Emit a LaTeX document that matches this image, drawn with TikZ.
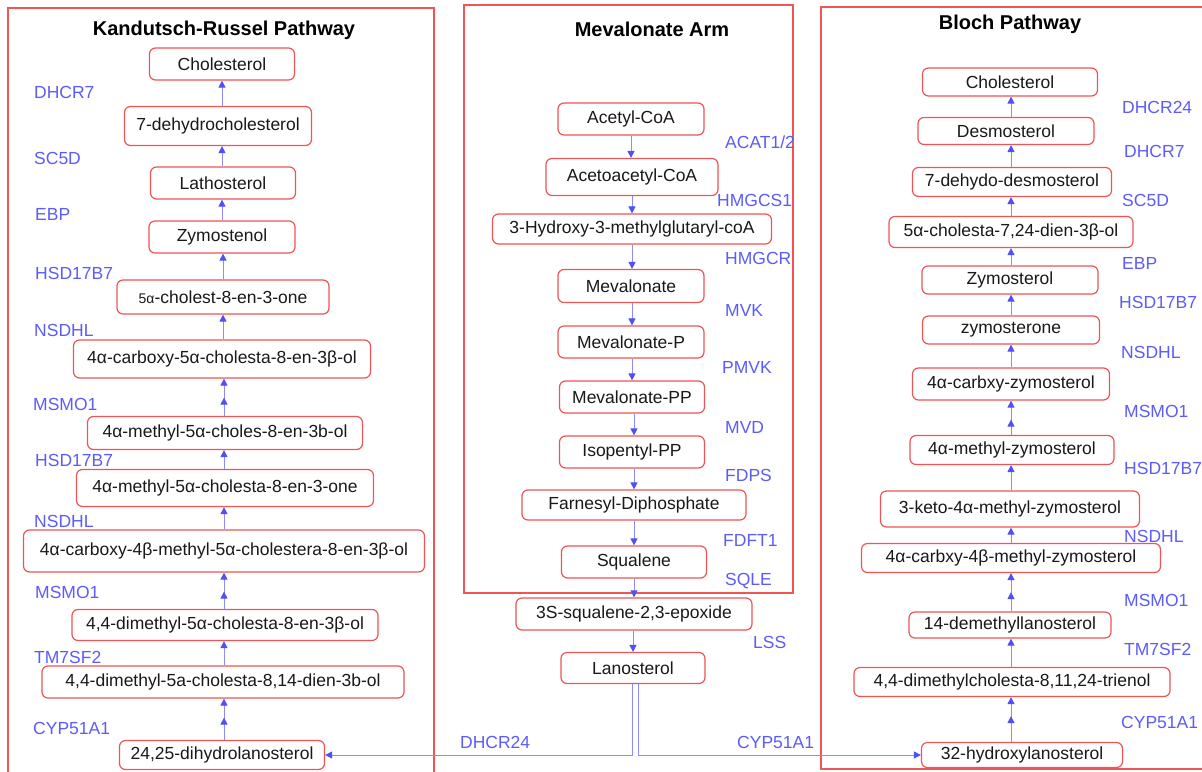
\documentclass[tikz,border=0pt]{standalone}
\usepackage{fontspec}
\setmainfont{Liberation Sans}
\usetikzlibrary{arrows.meta,decorations.markings}
\definecolor{kred}{RGB}{240,84,84}
\definecolor{kblue}{RGB}{92,92,250}
\definecolor{arrline}{RGB}{140,140,255}
\definecolor{arrhead}{RGB}{80,80,245}
\tikzset{
  box/.style 2 args={draw=kred, line width=1.2pt, rounded corners=6pt, fill=white,
    minimum width=#1, minimum height=#2, inner sep=0pt,
    font=\fontsize{17.5}{20}\selectfont, text=black!90},
  frame/.style={draw=kred, line width=1.3pt},
  ttl/.style={font=\fontsize{20}{24}\selectfont\bfseries, text=black},
  enz/.style={anchor=west, inner sep=0pt, text=kblue, font=\fontsize{17.5}{20}\selectfont},
  conn/.style={draw=arrline, line width=0.9pt, -{Triangle[length=7pt,width=7pt,color=arrhead]}},
  dbl/.style={postaction={decorate,decoration={markings,
    mark=at position -19pt with {\arrow{Triangle[length=7pt,width=7pt,color=arrhead]}}}}}
}
\begin{document}
\begin{tikzpicture}[x=1pt,y=-1pt]
\clip (0,0) rectangle (1202,771);
\fill[white] (0,0) rectangle (1202,771);
% frames
\draw[frame] (8,8) rectangle (434,800);
\draw[frame] (464,5) rectangle (793,593);
\draw[frame] (821,7) rectangle (1230,769);
\node[ttl] (t1) at (224,30) {Kandutsch-Russel Pathway};
\node[ttl] (t2) at (652,29) {Mevalonate Arm};
\node[ttl] (t3) at (1010,24) {Bloch Pathway};

% Kandutsch-Russel column
\node[box={145pt}{32pt}] (k1) at (222,64) {Cholesterol};
\node[box={187pt}{39pt}] (k2) at (218,126) {7-dehydrocholesterol};
\node[box={145pt}{32pt}] (k3) at (223,183) {Lathosterol};
\node[box={146pt}{32pt}] (k4) at (222,237) {Zymostenol};
\node[box={212pt}{34pt}] (k5) at (223,297) {{\fontsize{14}{16}\selectfont 5α}-cholest-8-en-3-one};
\node[box={297pt}{38pt}] (k6) at (222,359) {4α-carboxy-5α-cholesta-8-en-3β-ol};
\node[box={275pt}{33pt}] (k7) at (225,433) {4α-methyl-5α-choles-8-en-3b-ol};
\node[box={297pt}{37pt}] (k8) at (225,488) {4α-methyl-5α-cholesta-8-en-3-one};
\node[box={401pt}{42pt}] (k9) at (224,551) {4α-carboxy-4β-methyl-5α-cholestera-8-en-3β-ol};
\node[box={306pt}{31pt}] (k10) at (225,625) {4,4-dimethyl-5α-cholesta-8-en-3β-ol};
\node[box={362pt}{32pt}] (k11) at (223,682) {4,4-dimethyl-5a-cholesta-8,14-dien-3b-ol};
\node[box={205pt}{29pt}] (k12) at (222,755) {24,25-dihydrolanosterol};

\draw[conn] (k2.north -| k1.south) -- (k1.south);
\draw[conn] (k3.north -| k1.south) -- (k2.south -| k1.south);
\draw[conn] (k4.north -| k1.south) -- (k3.south -| k1.south);
\draw[conn] (k5.north -| k3.south) -- (k4.south -| k3.south);
\draw[conn] (k6.north -| k3.south) -- (k5.south -| k3.south);
\draw[conn,dbl] (k7.north -| k9.south) -- (k6.south -| k9.south);
\draw[conn] (k8.north -| k9.south) -- (k7.south -| k9.south);
\draw[conn] (k9.north) -- (k8.south -| k9.north);
\draw[conn,dbl] (k10.north -| k9.south) -- (k9.south);
\draw[conn] (k11.north -| k9.south) -- (k10.south -| k9.south);
\draw[conn,dbl] (k12.north -| k9.south) -- (k11.south -| k9.south);

\node[enz] (e1) at (34,92) {DHCR7};
\node[enz] (e2) at (34,158) {SC5D};
\node[enz] (e3) at (35,214) {EBP};
\node[enz] (e4) at (35,273) {HSD17B7};
\node[enz] (e5) at (34,330) {NSDHL};
\node[enz] (e6) at (33,404) {MSMO1};
\node[enz] (e7) at (35,460) {HSD17B7};
\node[enz] (e8) at (34,521) {NSDHL};
\node[enz] (e9) at (35,592) {MSMO1};
\node[enz] (e10) at (34,657) {TM7SF2};
\node[enz] (e11) at (33,728) {CYP51A1};

% Mevalonate column
\node[box={146pt}{32pt}] (m1) at (631,119) {Acetyl-CoA};
\node[box={172pt}{37pt}] (m2) at (632,177) {Acetoacetyl-CoA};
\node[box={279pt}{30pt}] (m3) at (632,229) {3-Hydroxy-3-methylglutaryl-coA};
\node[box={146pt}{33pt}] (m4) at (631,286) {Mevalonate};
\node[box={146pt}{32pt}] (m5) at (631,342) {Mevalonate-P};
\node[box={145pt}{32pt}] (m6) at (632,397) {Mevalonate-PP};
\node[box={145pt}{32pt}] (m7) at (632,452) {Isopentyl-PP};
\node[box={224pt}{30pt}] (m8) at (634,505) {Farnesyl-Diphosphate};
\node[box={145pt}{32pt}] (m9) at (634,562) {Squalene};
\node[box={236pt}{32pt}] (m10) at (634,614) {3S-squalene-2,3-epoxide};
\node[box={144pt}{31pt}] (m11) at (633,668) {Lanosterol};

\draw[conn] (m1.south) -- (m2.north -| m1.south);
\draw[conn] (m2.south) -- (m3.north -| m2.south);
\draw[conn] (m3.south) -- (m4.north -| m3.south);
\draw[conn] (m4.south -| m3.south) -- (m5.north -| m3.south);
\draw[conn] (m5.south -| m3.south) -- (m6.north -| m3.south);
\draw[conn] (m6.south -| m9.north) -- (m7.north -| m9.north);
\draw[conn] (m7.south -| m9.north) -- (m8.north -| m9.north);
\draw[conn] (m8.south -| m9.north) -- (m9.north);
\draw[conn] (m9.south) -- (m10.north -| m9.south);
\draw[conn] (m10.south -| m11.north) -- (m11.north);

\node[enz] (f1) at (725,142) {ACAT1/2};
\node[enz] (f2) at (717,200) {HMGCS1};
\node[enz] (f3) at (725,258) {HMGCR};
\node[enz] (f4) at (725,310) {MVK};
\node[enz] (f5) at (722,367) {PMVK};
\node[enz] (f6) at (725,427) {MVD};
\node[enz] (f7) at (725,475) {FDPS};
\node[enz] (f8) at (723,540) {FDFT1};
\node[enz] (f9) at (725,581) {SQLE};
\node[enz] (f10) at (753,642) {LSS};
\node[enz] (f11) at (460,742) {DHCR24};
\node[enz] (f12) at (737,742) {CYP51A1};

% Bloch column
\node[box={175pt}{28pt}] (b1) at (1010,82) {Cholesterol};
\node[box={176pt}{27pt}] (b2) at (1006,131) {Desmosterol};
\node[box={199pt}{29pt}] (b3) at (1012,182) {7-dehydo-desmosterol};
\node[box={244pt}{31pt}] (b4) at (1011,232) {5α-cholesta-7,24-dien-3β-ol};
\node[box={176pt}{28pt}] (b5) at (1010,280) {Zymosterol};
\node[box={177pt}{28pt}] (b6) at (1011,330) {zymosterone};
\node[box={197pt}{32pt}] (b7) at (1011,384) {4α-carbxy-zymosterol};
\node[box={204pt}{29pt}] (b8) at (1012,450) {4α-methyl-zymosterol};
\node[box={259pt}{36pt}] (b9) at (1010,509) {3-keto-4α-methyl-zymosterol};
\node[box={299pt}{29pt}] (b10) at (1011,558) {4α-carbxy-4β-methyl-zymosterol};
\node[box={202pt}{26pt}] (b11) at (1010,625) {14-demethyllanosterol};
\node[box={316pt}{29pt}] (b12) at (1012,682) {4,4-dimethylcholesta-8,11,24-trienol};
\node[box={201pt}{25pt}] (b13) at (1022,755) {32-hydroxylanosterol};

\draw[conn] (b2.north -| b4.south) -- (b1.south -| b4.south);
\draw[conn] (b3.north -| b4.south) -- (b2.south -| b4.south);
\draw[conn] (b4.north) -- (b3.south -| b4.north);
\draw[conn] (b5.north -| b4.south) -- (b4.south);
\draw[conn] (b6.north -| b4.south) -- (b5.south -| b4.south);
\draw[conn] (b7.north -| b4.south) -- (b6.south -| b4.south);
\draw[conn,dbl] (b8.north -| b4.south) -- (b7.south -| b4.south);
\draw[conn] (b9.north -| b4.south) -- (b8.south -| b4.south);
\draw[conn] (b10.north -| b4.south) -- (b9.south -| b4.south);
\draw[conn,dbl] (b11.north -| b4.south) -- (b10.south -| b4.south);
\draw[conn] (b12.north -| b4.south) -- (b11.south -| b4.south);
\draw[conn,dbl] (b13.north -| b4.south) -- (b12.south -| b4.south);

\node[enz] (g1) at (1122,107) {DHCR24};
\node[enz] (g2) at (1124,151) {DHCR7};
\node[enz] (g3) at (1122,200) {SC5D};
\node[enz] (g4) at (1122,263) {EBP};
\node[enz] (g5) at (1119,302) {HSD17B7};
\node[enz] (g6) at (1121,352) {NSDHL};
\node[enz] (g7) at (1124,411) {MSMO1};
\node[enz] (g8) at (1124,468) {HSD17B7};
\node[enz] (g9) at (1124,536) {NSDHL};
\node[enz] (g10) at (1124,600) {MSMO1};
\node[enz] (g11) at (1124,649) {TM7SF2};
\node[enz] (g12) at (1121,722) {CYP51A1};

% Lanosterol branches
\draw[conn] ([xshift=-1pt]m11.south) |- (k12);
\draw[conn] ([xshift=5pt]m11.south) |- (b13);
\end{tikzpicture}
\end{document}
